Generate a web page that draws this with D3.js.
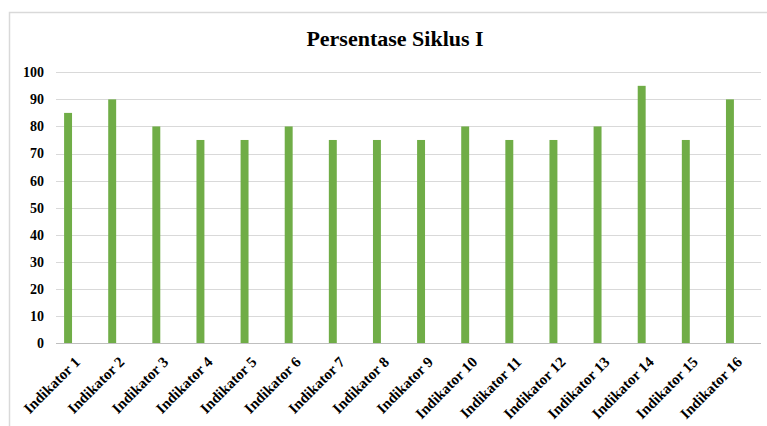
<!DOCTYPE html>
<html>
<head>
<meta charset="utf-8">
<script src="https://cdn.jsdelivr.net/npm/d3@7"></script>
<style>
  html, body { margin: 0; padding: 0; background: #fff; }
  svg { display: block; }
  text { font-family: "Liberation Serif", "Times New Roman", serif; font-weight: bold; fill: #000; }
</style>
</head>
<body>
<svg id="chart" width="767" height="426"></svg>
<script>
// Percentage per indicator, cycle I
const categories = ["Indikator 1", "Indikator 2", "Indikator 3", "Indikator 4", "Indikator 5",
  "Indikator 6", "Indikator 7", "Indikator 8", "Indikator 9", "Indikator 10",
  "Indikator 11", "Indikator 12", "Indikator 13", "Indikator 14", "Indikator 15", "Indikator 16"];
const values = [85, 90, 80, 75, 75, 80, 75, 75, 75, 80, 75, 75, 80, 95, 75, 90];
const yTicks = [0, 10, 20, 30, 40, 50, 60, 70, 80, 90, 100];
const title = "Persentase Siklus I";

const svg = d3.select("#chart");

// outer chart frame
svg.append("rect")
  .attr("x", 9.5).attr("y", 12.5)
  .attr("width", 800).attr("height", 500)
  .attr("fill", "#fff")
  .attr("stroke", "#d9d9d9")
  .attr("stroke-width", 1.5);

const gridLeft = 56, gridRight = 761;
const x = d3.scaleBand()
  .domain(categories)
  .range([46, 752])
  .paddingInner(0.82)
  .paddingOuter(0.41);
const y = d3.scaleLinear().domain([0, 100]).range([343, 72.3]);

// title
svg.append("text")
  .attr("x", 395).attr("y", 46)
  .attr("text-anchor", "middle")
  .style("font-size", "22px")
  .text(title);

// horizontal gridlines
svg.append("g")
  .selectAll("line")
  .data(yTicks.filter(t => t > 0))
  .join("line")
  .attr("x1", gridLeft).attr("x2", gridRight)
  .attr("y1", d => Math.round(y(d)) + 0.5)
  .attr("y2", d => Math.round(y(d)) + 0.5)
  .attr("stroke", "#d9d9d9")
  .attr("stroke-width", 1);

// y axis labels
const yAxis = d3.axisLeft(y).tickValues(yTicks).tickSize(0).tickPadding(0);
const gy = svg.append("g")
  .attr("transform", `translate(44,0)`)
  .call(yAxis);
gy.select(".domain").remove();
gy.selectAll("text")
  .style("font-size", "14px")
  .style("font-family", "'Liberation Serif', 'Times New Roman', serif")
  .style("font-weight", "bold")
  .attr("fill", "#000");

// bars
svg.append("g")
  .selectAll("rect")
  .data(values)
  .join("rect")
  .attr("x", (d, i) => x(categories[i]))
  .attr("width", x.bandwidth())
  .attr("y", d => y(d))
  .attr("height", d => y(0) - y(d))
  .attr("fill", "#70ad47");

// baseline
svg.append("line")
  .attr("x1", gridLeft).attr("x2", gridRight)
  .attr("y1", Math.round(y(0)) + 0.5).attr("y2", Math.round(y(0)) + 0.5)
  .attr("stroke", "#bfbfbf")
  .attr("stroke-width", 1);

// category labels, rotated
const xAxis = d3.axisBottom(x).tickSize(0).tickPadding(0);
const gx = svg.append("g")
  .attr("transform", `translate(0,${y(0)})`)
  .call(xAxis);
gx.select(".domain").remove();
gx.selectAll("text")
  .style("font-size", "15px")
  .style("font-family", "'Liberation Serif', 'Times New Roman', serif")
  .style("font-weight", "bold")
  .attr("fill", "#000")
  .attr("text-anchor", "end")
  .attr("dy", null)
  .attr("y", 0)
  .attr("transform", "translate(13,20) rotate(-45)");
</script>
</body>
</html>
